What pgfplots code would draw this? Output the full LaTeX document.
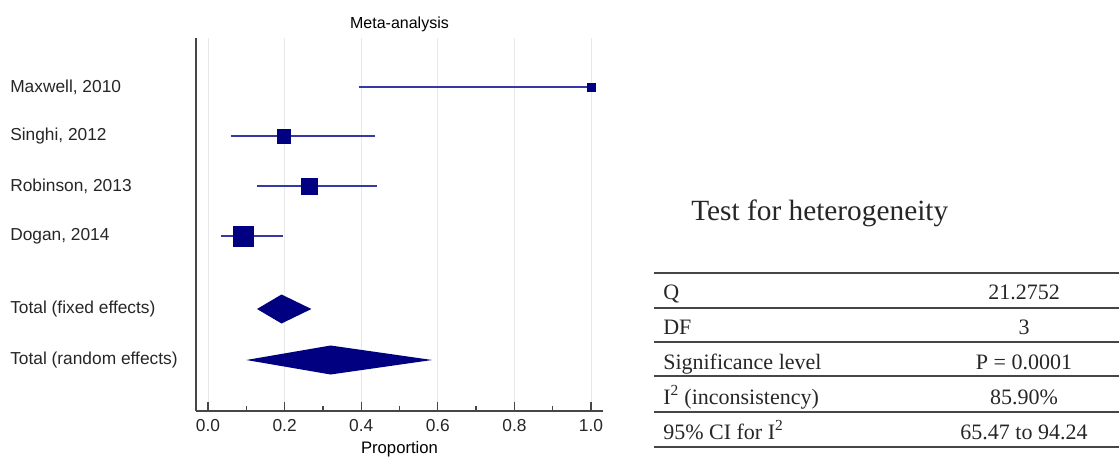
\documentclass[border=0pt]{standalone}
\usepackage{fontspec}
\setmainfont{Liberation Sans}
\newfontfamily\tabfont{Liberation Serif}
\usepackage{pgfplots}
\pgfplotsset{compat=1.18}
\definecolor{navy}{RGB}{0,0,128}
\definecolor{ciblue}{RGB}{55,55,165}
\definecolor{rulegray}{RGB}{70,70,70}

\begin{document}
\begin{tikzpicture}
\useasboundingbox (0pt,0pt) rectangle (839.25pt,342.75pt);
\begin{axis}[
    at={(147pt,34.5pt)}, anchor=south west,
    scale only axis,
    width=305.25pt, height=279.75pt,
    xmin=-0.0313, xmax=1.0313,
    ymin=-7.46, ymax=0,
    axis x line*=bottom, axis y line*=left,
    axis line style={-, rulegray},
    x axis line style={line width=1.3pt},
    y axis line style={line width=2pt},
    xtick={0,0.2,...,1.0},
    minor xtick={0.1,0.3,0.5,0.7,0.9},
    tick align=inside,
    major tick length=6.5pt, minor tick length=3.5pt,
    x tick style={rulegray, line width=1pt},
    xmajorgrids, grid style={gray!18, line width=0.7pt},
    xticklabel style={yshift=-3pt, /pgf/number format/.cd, fixed, fixed zerofill, precision=1},
    /pgf/number format/assume math mode=true,
    tick label style={font=\fontsize{13}{15}\selectfont, text=black!85},
    ytick={-0.98,-1.96,-2.96,-3.96,-5.42,-6.44},
    yticklabels={{Maxwell, 2010},{Singhi, 2012},{Robinson, 2013},{Dogan, 2014},{Total (fixed effects)},{Total (random effects)}},
    y tick style={draw=none},
    yticklabel style={anchor=west, inner sep=0pt, xshift=-139.5pt},
    xlabel={Proportion},
    xlabel style={font=\fontsize{12.5}{14}\selectfont, yshift=0pt},
    title={Meta-analysis},
    title style={font=\fontsize{12}{14}\selectfont, yshift=-5pt},
    clip=false,
]
% confidence intervals
\addplot[ciblue, line width=1.5pt] coordinates {(0.395,-0.98) (1.0,-0.98)};
\addplot[ciblue, line width=1.5pt] coordinates {(0.060,-1.96) (0.435,-1.96)};
\addplot[ciblue, line width=1.5pt] coordinates {(0.128,-2.96) (0.440,-2.96)};
\addplot[ciblue, line width=1.5pt] coordinates {(0.035,-3.96) (0.195,-3.96)};
% point estimates
\addplot[only marks, mark=square*, mark size=3pt, navy] coordinates {(1.0,-0.98)};
\addplot[only marks, mark=square*, mark size=5.2pt, navy] coordinates {(0.198,-1.96)};
\addplot[only marks, mark=square*, mark size=6pt, navy] coordinates {(0.264,-2.96)};
\addplot[only marks, mark=square*, mark size=7.5pt, navy] coordinates {(0.093,-3.96)};
% pooled estimates
\addplot[fill=navy, draw=none] coordinates {(0.128,-5.42) (0.192,-5.13) (0.270,-5.42) (0.192,-5.71)} -- cycle;
\addplot[fill=navy, draw=none] coordinates {(0.100,-6.44) (0.320,-6.15) (0.585,-6.44) (0.320,-6.73)} -- cycle;
\end{axis}

% heterogeneity table (coordinates in reference pixels, y from bottom)
\begin{scope}[x=0.75pt,y=0.75pt]
\node[anchor=base west, inner sep=0pt, font=\tabfont\fontsize{22}{26}\selectfont, text=black!85] at (691,236) {Test for heterogeneity};
\draw[rulegray, line width=1.3pt] (654,184) -- (1119,184);
\foreach \yy in {149,115,81,45,10} \draw[rulegray, line width=1pt] (654,\yy) -- (1119,\yy);
\begin{scope}[every node/.style={inner sep=0pt, font=\tabfont\fontsize{16.5}{19}\selectfont, text=black!85}]
\node[anchor=base west] at (663,157) {Q};
\node[anchor=base] at (1024,157) {21.2752};
\node[anchor=base west] at (663,123) {DF};
\node[anchor=base] at (1024,123) {3};
\node[anchor=base west] at (663,88) {Significance level};
\node[anchor=base] at (1024,88) {P = 0.0001};
\node[anchor=base west] at (663,53) {I\textsuperscript{2} (inconsistency)};
\node[anchor=base] at (1024,53) {85.90\%};
\node[anchor=base west] at (663,18) {95\% CI for I\textsuperscript{2}};
\node[anchor=base] at (1024,18) {65.47 to 94.24};
\end{scope}
\end{scope}
\end{tikzpicture}
\end{document}
